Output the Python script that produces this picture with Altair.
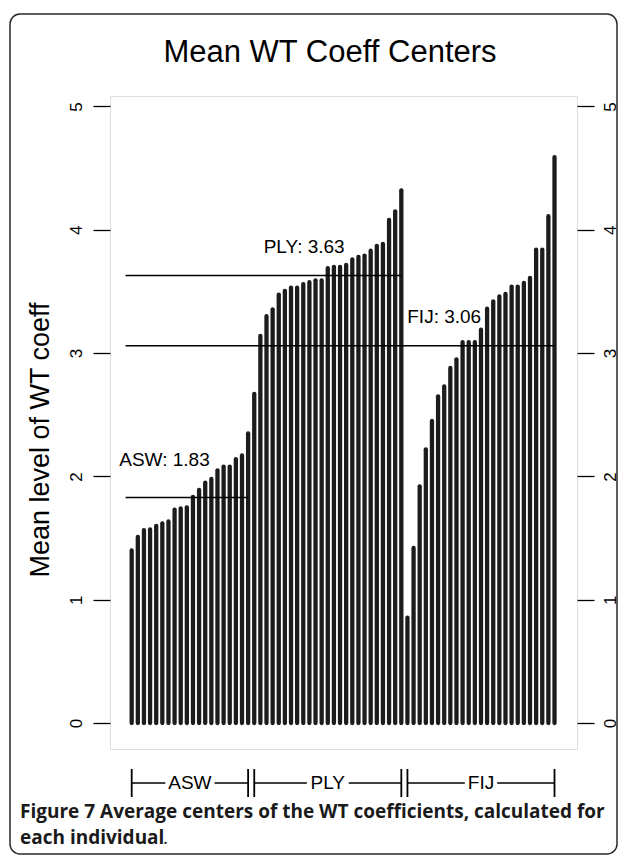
import altair as alt
import pandas as pd

# ---------------- data ----------------
groups = ["ASW", "PLY", "FIJ"]
asw = [1.40, 1.51, 1.565, 1.57, 1.60, 1.62, 1.635, 1.73, 1.74, 1.75,
       1.835, 1.89, 1.95, 1.98, 2.05, 2.08, 2.08, 2.14, 2.17, 2.35]
ply = [2.67, 3.14, 3.30, 3.355, 3.475, 3.505, 3.53, 3.53, 3.56, 3.575,
       3.59, 3.59, 3.69, 3.70, 3.70, 3.715, 3.76, 3.78, 3.79, 3.83,
       3.87, 3.885, 4.08, 4.15, 4.32]
fij = [0.855, 1.42, 1.92, 2.22, 2.45, 2.65, 2.73, 2.88, 2.95, 3.09,
       3.09, 3.09, 3.19, 3.36, 3.42, 3.46, 3.48, 3.54, 3.54, 3.57,
       3.61, 3.84, 3.84, 4.11, 4.59]
group_means = [1.83, 3.63, 3.06]
mean_labels = ["ASW: 1.83", "PLY: 3.63", "FIJ: 3.06"]
y_ticks = [0, 1, 2, 3, 4, 5]

# annotation anchor points (data coordinates)
label_x = [6.35, 29.15, 52.0]
label_y = [2.13, 3.86, 3.295]

TITLE = "Mean WT Coeff Centers"
Y_TITLE = "Mean level of WT coeff"
CAPTION_1 = "Figure 7 Average centers of the WT coefficients, calculated for"
CAPTION_2 = "each individual"

# ---------------- tables ----------------
series = [asw, ply, fij]
rows = []
idx = 1
bounds = []
for g, vals in zip(groups, series):
    start = idx
    for v in vals:
        rows.append({"idx": idx, "value": v, "group": g})
        idx += 1
    bounds.append((start, idx - 1))
bars_df = pd.DataFrame(rows)
n = len(bars_df)

means_df = pd.DataFrame({
    "group": groups,
    "x0": [0] * 3,
    "x1": [b[1] for b in bounds],
    "mean": group_means,
})
labels_df = pd.DataFrame({"label": mean_labels, "lx": label_x, "ly": label_y})

# group brackets under the axis
PX_PER_UNIT = 6.127
FS = 19
char_w = {"A": 0.667, "S": 0.667, "W": 0.944, "P": 0.667, "L": 0.556,
          "Y": 0.667, "F": 0.611, "I": 0.278, "J": 0.5}
seg_rows, end_rows, glab_rows = [], [], []
for g, (a, b) in zip(groups, bounds):
    c = (a + b) / 2
    w = sum(char_w[ch] for ch in g) * FS
    half = (w / 2 + 3) / PX_PER_UNIT
    seg_rows.append({"s": a, "e": c - half})
    seg_rows.append({"s": c + half, "e": b})
    end_rows += [{"x": a}, {"x": b}]
    glab_rows.append({"x": c, "g": g})
seg_df = pd.DataFrame(seg_rows)
end_df = pd.DataFrame(end_rows)
glab_df = pd.DataFrame(glab_rows)

# ---------------- layout ----------------
W, H = 467, 653
PAD_L, PAD_T = 102, 88
PAD_R = 611 - PAD_L - W
PAD_B = 848 - PAD_T - H
FONT = "Liberation Sans"
OX, OY = 110, 96  # page position of plot origin

xscale = alt.Scale(domain=[-2.54, 73.67], nice=False, zero=False)
yscale = alt.Scale(domain=[-0.21, 5.085], nice=False, zero=False)

left_axis = alt.Axis(
    orient="left", values=y_ticks, format="d", tickSize=17, tickWidth=1.3,
    tickColor="black", domain=False, grid=False,
    labelAngle=270, labelAlign="center", labelBaseline="middle",
    labelPadding=17, labelFontSize=17, labelFont=FONT, labelColor="black",
    title=Y_TITLE, titleAngle=270, titleFontSize=27,
    titleFont=FONT, titleFontWeight="normal", titleColor="black",
    titleX=40 - OX, titleY=H / 2 + 17, titleAlign="center", titleBaseline="middle",
)
right_axis = alt.Axis(
    orient="right", values=y_ticks, format="d", tickSize=17, tickWidth=1.3,
    tickColor="black", domain=False, grid=False,
    labelAngle=270, labelAlign="center", labelBaseline="middle",
    labelPadding=16, labelFontSize=17, labelFont=FONT, labelColor="black",
    title=None,
)
x_axis = alt.Axis(
    values=list(range(1, n + 1)), labels=False, tickSize=11, tickWidth=1.2,
    tickColor="black", domain=False, grid=False, title=None,
)

bars = alt.Chart(bars_df).mark_rule(
    color="#1c1c1c", strokeWidth=4.3, strokeCap="round"
).encode(
    x=alt.X("idx:Q", scale=xscale, axis=x_axis),
    y=alt.Y("value:Q", scale=yscale, axis=left_axis),
    y2=alt.datum(0),
)

mean_lines = alt.Chart(means_df).mark_rule(color="black", strokeWidth=1.5).encode(
    x=alt.X("x0:Q", scale=xscale, axis=None),
    x2="x1:Q",
    y=alt.Y("mean:Q", scale=yscale, axis=right_axis),
)

mean_text = alt.Chart(labels_df).mark_text(
    font=FONT, fontSize=FS, color="black", align="center", baseline="middle"
).encode(
    x=alt.X("lx:Q", scale=xscale, axis=None),
    y=alt.Y("ly:Q", scale=yscale, axis=None),
    text="label:N",
)

BR_Y = 783 - OY
bracket_segs = alt.Chart(seg_df).mark_rule(color="black", strokeWidth=1.5).encode(
    x=alt.X("s:Q", scale=xscale, axis=None),
    x2="e:Q",
    y=alt.value(BR_Y),
)
bracket_ends = alt.Chart(end_df).mark_rule(color="black", strokeWidth=1.8).encode(
    x=alt.X("x:Q", scale=xscale, axis=None),
    y=alt.value(BR_Y - 14),
    y2=alt.value(BR_Y + 14),
)
bracket_text = alt.Chart(glab_df).mark_text(
    font=FONT, fontSize=FS, color="black", align="center", baseline="middle"
).encode(
    x=alt.X("x:Q", scale=xscale, axis=None),
    y=alt.value(BR_Y),
    text="g:N",
)

one = pd.DataFrame({"a": [0]})
frame = alt.Chart(one).mark_rect(
    fill="white", fillOpacity=0, stroke="#2a2a2a", strokeWidth=1.5, cornerRadius=10
).encode(
    x=alt.value(10 - OX), x2=alt.value(617 - OX),
    y=alt.value(14 - OY), y2=alt.value(854 - OY),
)

title = alt.Chart(one).mark_text(
    text=TITLE, font=FONT, fontSize=31, color="black",
    align="center", baseline="alphabetic",
).encode(x=alt.value(330 - OX), y=alt.value(62 - OY))

CAP_FONT = "Open Sans"
cap1 = alt.Chart(one).mark_text(
    text=CAPTION_1, font=CAP_FONT, fontSize=19, fontWeight="bold",
    color="#1a1a1a", align="left", baseline="alphabetic",
).encode(x=alt.value(20 - OX), y=alt.value(818 - OY))
cap2 = alt.Chart(one).mark_text(
    text=CAPTION_2, font=CAP_FONT, fontSize=19, fontWeight="bold",
    color="#1a1a1a", align="left", baseline="alphabetic",
).encode(x=alt.value(20 - OX), y=alt.value(844 - OY))
cap2_dot = alt.Chart(one).mark_text(
    text=".", font=CAP_FONT, fontSize=19, fontWeight="normal",
    color="#1a1a1a", align="left", baseline="alphabetic",
).encode(x=alt.value(163 - OX), y=alt.value(844 - OY))

chart = alt.layer(
    frame, title, bars, mean_lines, mean_text, bracket_segs, bracket_ends,
    bracket_text, cap1, cap2, cap2_dot,
).resolve_axis(y="independent").properties(
    width=W, height=H,
    autosize=alt.AutoSizeParams(type="none"),
    padding={"left": PAD_L, "top": PAD_T, "right": PAD_R, "bottom": PAD_B},
).configure_view(stroke="black", strokeWidth=1.5).configure(background="white")

chart.save("out.html", embed_options={"renderer": "svg", "actions": False})
